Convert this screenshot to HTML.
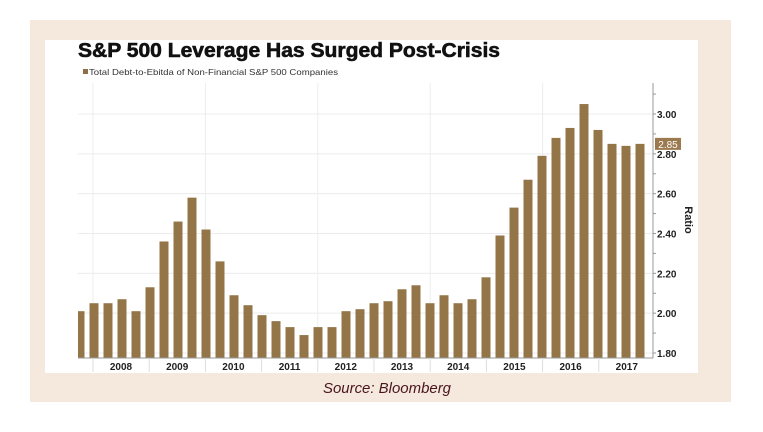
<!DOCTYPE html>
<html><head><meta charset="utf-8"><style>
body{margin:0;width:763px;height:427px;background:#fff;overflow:hidden;font-family:"Liberation Sans",Arial,sans-serif}
</style></head><body>
<svg width="763" height="427" xmlns="http://www.w3.org/2000/svg">
<rect x="30" y="20" width="701" height="382" fill="#f4e9dc"/>
<rect x="45" y="40" width="653" height="333" fill="#ffffff"/>
<text x="78" y="57" font-size="20" font-weight="bold" fill="#111" textLength="422" lengthAdjust="spacingAndGlyphs" stroke="#111" stroke-width="0.6">S&amp;P 500 Leverage Has Surged Post-Crisis</text>
<rect x="83" y="69" width="5" height="5" fill="#8f6f47"/>
<text x="89" y="75" font-size="8.5" fill="#333" textLength="249" lengthAdjust="spacingAndGlyphs">Total Debt-to-Ebitda of Non-Financial S&amp;P 500 Companies</text>
<g id="grid"></g><g id="bars"></g><g id="axis"></g>
<text x="323" y="393" font-size="15" font-style="italic" fill="#4a1520" textLength="128" lengthAdjust="spacingAndGlyphs">Source: Bloomberg</text>
<text transform="translate(685,220) rotate(90)" font-size="11" font-weight="bold" fill="#222" text-anchor="middle">Ratio</text>
</svg>
<script>
const values=[2.01,2.05,2.05,2.07,2.01,2.13,2.36,2.46,2.58,2.42,2.26,2.09,2.04,1.99,1.96,1.93,1.89,1.93,1.93,2.01,2.02,2.05,2.06,2.12,2.14,2.05,2.09,2.05,2.07,2.18,2.39,2.53,2.67,2.79,2.88,2.93,3.05,2.92,2.85,2.84,2.85];
const years=["2008","2009","2010","2011","2012","2013","2014","2015","2016","2017"];
const yTicks=[1.8,2.0,2.2,2.4,2.6,2.8,3.0];
const lastLabel="2.85";
const NS="http://www.w3.org/2000/svg";
const plotL=78,plotR=653,plotT=83,plotB=358;
const y=v=>353-(v-1.8)/1.2*239;
const xc=i=>80+14.0*i;
const yearX=k=>93+56.2*k;
function mk(t,a,p){const e=document.createElementNS(NS,t);for(const k in a)e.setAttribute(k,a[k]);p.appendChild(e);return e;}
const grid=document.getElementById('grid'),bars=document.getElementById('bars'),axis=document.getElementById('axis');
yTicks.forEach(v=>{const l=mk('line',{x1:plotL,x2:plotR,y1:y(v),y2:y(v),stroke:'#ececec','stroke-width':1},grid);

});
for(let k=0;k<years.length;k+=2){const l=mk('line',{x1:yearX(k),x2:yearX(k),y1:plotT,y2:plotB,stroke:'#ececec','stroke-width':1},grid);

}
values.forEach((v,i)=>{let x0=xc(i)-4.5,x1=xc(i)+4.5;if(x0<plotL)x0=plotL;
const r=mk('rect',{x:x0,y:y(v),width:x1-x0,height:plotB-y(v),fill:'#937548'},bars);

});
mk('line',{x1:plotL,x2:plotR,y1:plotB,y2:plotB,stroke:'#999'},axis);
mk('line',{x1:plotR,x2:plotR,y1:plotT,y2:plotB,stroke:'#999'},axis);
for(let v=1.8;v<=3.15;v+=0.1){mk('line',{x1:plotR,x2:plotR+3,y1:y(v),y2:y(v),stroke:'#999'},axis);}
yTicks.forEach(v=>{const t=mk('text',{x:plotR+4,y:y(v)+4,'font-size':10,'font-weight':'bold',fill:'#222'},axis);t.textContent=v.toFixed(2);

});
years.forEach((yr,k)=>{mk('line',{x1:yearX(k),x2:yearX(k),y1:plotB,y2:plotB+14,stroke:'#ddd'},axis);
const t=mk('text',{x:yearX(k)+28,y:plotB+12,'font-size':10,'font-weight':'bold',fill:'#222','text-anchor':'middle'},axis);t.textContent=yr;

});
const lv=values[values.length-1];
const b=mk('rect',{x:plotR+2,y:y(lv)-6,width:26,height:12,fill:'#9c7a4f'},axis);


const bt=mk('text',{x:plotR+15,y:y(lv)+4,'font-size':10,fill:'#fff','text-anchor':'middle'},axis);bt.textContent=lastLabel;


</script>
</body></html>
